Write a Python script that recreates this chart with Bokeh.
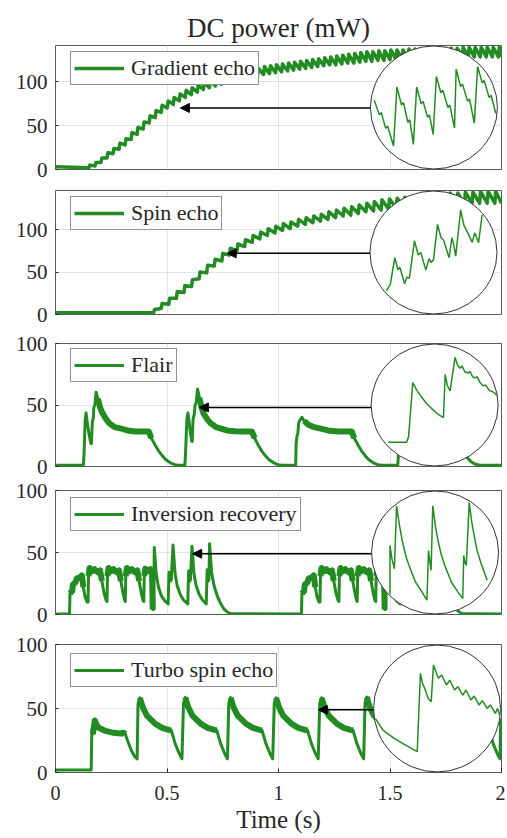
from bokeh.plotting import figure
from bokeh.layouts import column
from bokeh.models import (Range1d, FixedTicker, Legend, LegendItem, Arrow,
                          NormalHead)
from bokeh.embed import file_html
from bokeh.resources import INLINE

FONT = "Liberation Serif"
GREEN = "#228B22"
TXT = "#262626"

# ---------------- data ----------------
X_TICKS = [0, 0.5, 1, 1.5, 2]
X_LABELS = ["0", "0.5", "1", "1.5", "2"]
LABELS = ["Gradient echo", "Spin echo", "Flair", "Inversion recovery",
          "Turbo spin echo"]
Y_MAX = [141, 146, 100, 100, 100]
Y_TICKS = [0, 50, 100]

# Gradient echo: tooth start times, trough and peak of each tooth (mW)
GE_BASE = 3
GE_TOOTH_T = [0.150, 0.177, 0.204, 0.231, 0.258, 0.285, 0.312, 0.339, 0.366, 0.393,
              0.420, 0.447, 0.474, 0.501, 0.528, 0.555, 0.582, 0.609, 0.636, 0.663,
              0.690, 0.717, 0.744, 0.771, 0.798, 0.825, 0.852, 0.879, 0.906, 0.933,
              0.960, 0.987, 1.014, 1.041, 1.068, 1.095, 1.122, 1.149, 1.176, 1.203,
              1.230, 1.257, 1.284, 1.311, 1.338, 1.365, 1.392, 1.419, 1.446, 1.473,
              1.500, 1.527, 1.554, 1.581, 1.608, 1.635, 1.662, 1.689, 1.716, 1.743,
              1.770, 1.797, 1.824, 1.851, 1.878, 1.905, 1.932, 1.959, 1.986]
GE_TROUGH = [2, 4, 8, 13, 18, 23, 28, 34, 40, 46,
             53, 59, 65, 70, 74, 78, 82, 85, 88, 91,
             93, 95, 97, 99, 101, 102, 104, 105, 106, 108,
             109, 110, 111, 112, 113, 114, 115, 116, 117, 118,
             119, 119, 120, 121, 121, 122, 123, 123, 124, 124,
             125, 125, 125, 126, 126, 126, 126, 127, 127, 127,
             127, 127, 128, 128, 128, 128, 128, 128, 128]
GE_PEAK = [5, 8, 13, 19, 24, 30, 35, 42, 48, 54,
           61, 67, 73, 78, 82, 86, 90, 93, 96, 99,
           101, 103, 105, 107, 109, 111, 113, 114, 115, 117,
           118, 119, 120, 121, 122, 123, 124, 125, 126, 127,
           128, 129, 130, 131, 132, 133, 134, 134, 135, 135,
           136, 136, 136, 137, 137, 137, 137, 138, 138, 138,
           138, 138, 139, 139, 139, 139, 139, 139, 139]

# Spin echo
SE_BASE = 2
SE_TOOTH_T = [0.440, 0.474, 0.508, 0.542, 0.576, 0.610, 0.644, 0.678, 0.712, 0.746,
              0.780, 0.814, 0.848, 0.882, 0.916, 0.950, 0.984, 1.018, 1.052, 1.086,
              1.120, 1.154, 1.188, 1.222, 1.256, 1.290, 1.324, 1.358, 1.392, 1.426,
              1.460, 1.494, 1.528, 1.562, 1.596, 1.630, 1.664, 1.698, 1.732, 1.766,
              1.800, 1.834, 1.868, 1.902, 1.936, 1.970]
SE_TROUGH = [2, 7, 12, 19, 26, 33, 42, 49, 57, 63,
             70, 75, 80, 85, 89, 93, 96, 99, 101, 104,
             106, 108, 110, 112, 114, 116, 117, 119, 121, 122,
             123, 124, 125, 126, 127, 128, 128, 129, 129, 130,
             130, 130, 131, 131, 131, 131]
SE_PEAK = [6, 13, 19, 27, 34, 41, 50, 58, 65, 72,
           78, 83, 88, 93, 97, 101, 104, 107, 109, 112,
           114, 116, 118, 121, 123, 125, 127, 129, 131, 133,
           135, 136, 137, 138, 139, 140, 141, 142, 142, 143,
           143, 144, 144, 145, 145, 145]
TOOTH_RISE = 0.004

# Flair
FL_T = [0.000, 0.125, 0.128, 0.133, 0.137, 0.145, 0.158, 0.161, 0.165, 0.170,
        0.172, 0.177, 0.182, 0.190, 0.200, 0.209, 0.225, 0.239, 0.265, 0.299,
        0.330, 0.358, 0.390, 0.418, 0.430, 0.448, 0.463, 0.478, 0.495, 0.515,
        0.535, 0.552,
        0.580, 0.583, 0.589, 0.594, 0.602, 0.610, 0.613, 0.617, 0.622, 0.626,
        0.631, 0.637, 0.645, 0.655, 0.664, 0.680, 0.694, 0.720, 0.746, 0.776,
        0.806, 0.845, 0.881, 0.893, 0.910, 0.925, 0.940, 0.958, 0.978, 0.998,
        1.015,
        1.077, 1.079, 1.083, 1.087, 1.090, 1.095, 1.105, 1.115, 1.134, 1.160,
        1.194, 1.230, 1.270, 1.300, 1.328, 1.340, 1.358, 1.373, 1.388, 1.405,
        1.425, 1.445, 1.463,
        1.535, 1.538, 1.543, 1.547, 1.555, 1.568, 1.571, 1.575, 1.580, 1.582,
        1.587, 1.592, 1.600, 1.610, 1.619, 1.635, 1.649, 1.675, 1.709, 1.740,
        1.770, 1.800, 1.812, 1.830, 1.843, 1.860, 1.880, 1.903, 2.000]
FL_V = [1, 1, 10, 38, 43.6, 32, 19, 18.5, 36, 40,
        48, 50, 60.4, 55, 48, 44, 39, 35.5, 32, 30.6,
        29, 28.5, 28.5, 28.5, 23, 17, 12.5, 9, 5.5, 3,
        1.5, 1,
        1, 10, 38, 43.6, 32, 21, 20.3, 38.8, 42, 50,
        52, 63, 56, 48, 43, 38.5, 35.5, 32, 30.6, 29,
        28.7, 28.5, 28.5, 23, 17, 12.5, 9, 5.5, 3, 1.5,
        1,
        1, 18, 25, 27, 35, 37.4, 40, 37, 34, 32,
        30.6, 29, 28.5, 28.5, 28.5, 23, 17, 12.5, 9, 5.5,
        3, 1.5, 1,
        1, 10, 38, 43, 32, 19, 18.5, 36, 40, 48,
        50, 60, 55, 48, 44, 39, 35.5, 32, 30.6, 29,
        28.5, 28.5, 23, 15, 8, 4.5, 2, 1, 1]

# Inversion recovery
IR_T = [0.000, 0.063, 0.065, 0.075, 0.078, 0.090, 0.095, 0.110, 0.118, 0.125, 0.133, 0.142,
        0.146, 0.148, 0.153, 0.165, 0.175, 0.190, 0.200, 0.208, 0.218, 0.228,
        0.231, 0.233, 0.238, 0.250, 0.260, 0.275, 0.285, 0.293, 0.303, 0.311,
        0.313, 0.315, 0.320, 0.332, 0.342, 0.357, 0.367, 0.375, 0.385, 0.393,
        0.396, 0.398, 0.403, 0.415, 0.425, 0.433, 0.436, 0.440,
        0.443, 0.452, 0.462, 0.475, 0.490, 0.505,
        0.509, 0.515, 0.519, 0.527, 0.536, 0.546, 0.560, 0.575, 0.593,
        0.597, 0.602, 0.605, 0.612, 0.621, 0.631, 0.645, 0.660, 0.676,
        0.680, 0.685, 0.688, 0.691, 0.700, 0.710, 0.725, 0.740, 0.755, 0.770, 0.784,
        1.103, 1.105, 1.115, 1.118, 1.130, 1.135, 1.150, 1.158, 1.165, 1.173, 1.182,
        1.186, 1.188, 1.193, 1.205, 1.215, 1.230, 1.240, 1.248, 1.258, 1.268,
        1.271, 1.273, 1.278, 1.290, 1.300, 1.315, 1.325, 1.333, 1.343, 1.351,
        1.353, 1.355, 1.360, 1.372, 1.382, 1.397, 1.407, 1.415, 1.425, 1.433,
        1.436, 1.438, 1.443, 1.455, 1.465, 1.473, 1.476, 1.480,
        1.483, 1.492, 1.502, 1.515, 1.530, 1.545,
        1.549, 1.555, 1.559, 1.567, 1.576, 1.586, 1.600, 1.615, 1.633,
        1.637, 1.642, 1.645, 1.652, 1.661, 1.671, 1.685, 1.700, 1.716,
        1.720, 1.725, 1.728, 1.731, 1.740, 1.750, 1.765, 1.780, 1.795, 1.810, 1.824, 2.000]
IR_V = [0.5, 0.5, 17, 19, 24, 26, 29, 30, 31.5, 22, 14, 10,
        10, 31, 37.5, 35, 36.5, 34, 35.5, 27, 17, 11,
        10.5, 31, 37.5, 35, 36.5, 34, 35.5, 27, 17, 11,
        10.5, 31, 37.5, 35, 36.5, 34, 35.5, 27, 17, 11,
        10.5, 31, 37, 35, 36.5, 34, 4, 4,
        54, 32, 22, 15, 11, 8.5,
        34, 27, 28, 56, 33, 23, 16, 11.5, 8.5,
        35, 27, 28, 55, 33, 23, 16, 11.5, 8.5,
        36, 27, 28, 57, 34, 24, 15, 9, 4.5, 2, 0.8,
        0.5, 17, 19, 24, 26, 29, 30, 31.5, 22, 14, 10,
        10, 31, 37.5, 35, 36.5, 34, 35.5, 27, 17, 11,
        10.5, 31, 37.5, 35, 36.5, 34, 35.5, 27, 17, 11,
        10.5, 31, 37.5, 35, 36.5, 34, 35.5, 27, 17, 11,
        10.5, 31, 37, 35, 36.5, 34, 4, 4,
        54, 32, 22, 15, 11, 8.5,
        34, 27, 28, 56, 33, 23, 16, 11.5, 8.5,
        35, 27, 28, 55, 33, 23, 16, 11.5, 8.5,
        36, 27, 28, 57, 34, 24, 15, 9, 4.5, 2, 0.8, 0.5]

# Turbo spin echo
TSE_T = [0.000, 0.160, 0.163, 0.168, 0.176, 0.185, 0.194, 0.224, 0.260, 0.290, 0.306, 0.313, 0.325, 0.340, 0.355, 0.366,
         0.370, 0.378, 0.391, 0.410, 0.448, 0.478, 0.508, 0.519, 0.537, 0.555, 0.567,
         0.574, 0.582, 0.595, 0.614, 0.652, 0.682, 0.712, 0.723, 0.741, 0.759, 0.771,
         0.777, 0.785, 0.798, 0.817, 0.855, 0.885, 0.915, 0.926, 0.944, 0.962, 0.974,
         0.981, 0.989, 1.002, 1.021, 1.059, 1.089, 1.119, 1.130, 1.148, 1.166, 1.178,
         1.185, 1.193, 1.206, 1.225, 1.263, 1.293, 1.323, 1.334, 1.352, 1.370, 1.382,
         1.388, 1.396, 1.409, 1.428, 1.466, 1.496, 1.526, 1.537, 1.555, 1.573, 1.585,
         1.592, 1.600, 1.613, 1.632, 1.670, 1.700, 1.730, 1.741, 1.759, 1.777, 1.789,
         1.796, 1.804, 1.817, 1.836, 1.874, 1.904, 1.934, 1.945, 1.963, 1.981, 1.993,
         1.996, 2.000]
TSE_V = [2, 2, 33, 30, 40.6, 37, 34.9, 32.5, 31, 30.5, 31, 30, 24, 17.2, 12.5, 10.7,
         53.6, 58.3, 51, 44.5, 38, 34.9, 33.3, 33, 22.4, 14.6, 10.7,
         54, 58.6, 51, 44.5, 38, 34.9, 33.3, 33, 22.4, 14.6, 10.7,
         54, 58.5, 51, 44.5, 38, 34.9, 33.3, 33, 22.4, 14.6, 10.7,
         54, 58.3, 51, 44.5, 38, 34.9, 33.3, 33, 22.4, 14.6, 10.7,
         54, 58.3, 51, 44.5, 38, 34.9, 33.3, 33, 22.4, 14.6, 10.7,
         54, 58.9, 51, 44.5, 38, 34.9, 33.3, 33, 22.4, 14.6, 10.7,
         54, 58.5, 51, 44.5, 38, 34.9, 33.3, 33, 22.4, 14.6, 10.7,
         54, 58.5, 51, 44.5, 38, 34.9, 33.3, 33, 22.4, 14.6, 10.7,
         40, 42]

# Noisy (thick) stretches of each trace, in seconds
FL_NOISY = [(0.19, 0.43), (0.645, 0.893), (1.11, 1.34), (1.60, 1.812)]
IR_NOISY = [(0.065, 0.125), (0.148, 0.208), (0.233, 0.293), (0.315, 0.375),
            (0.398, 0.436), (1.105, 1.165), (1.188, 1.248), (1.273, 1.333),
            (1.355, 1.415), (1.438, 1.476)]
TSE_NOISY = [(0.168, 0.313), (0.378, 0.519), (0.582, 0.723), (0.785, 0.926),
             (0.989, 1.130), (1.193, 1.334), (1.396, 1.537), (1.600, 1.741),
             (1.804, 1.945)]

# Zoomed insets: position across / up the magnifier circle (0-100 %)
GE_IN_U = [3, 7, 8.5, 12, 13.5, 18.2, 20.8, 24.5, 26, 29.5, 31, 33.8, 36.4, 40, 41.5,
           45, 46.5, 49.4, 51.9, 55.5, 57, 61, 62.5, 66.2, 67.5, 71, 72.5, 76.5,
           78, 81.8, 84.4, 88, 89.5, 93.5, 95, 98.7]
GE_IN_W = [56, 44, 46, 33, 35, 18.7, 66.7, 52, 54, 38, 40, 20, 66.7, 53, 55,
           42, 44, 28, 75.2, 62, 64, 50, 52, 33.3, 81.3, 67, 69, 55,
           57, 37.3, 83.2, 70, 72, 58, 60, 45.3]
SE_IN_U = [13, 16, 19.5, 22, 23.5, 27.3, 29, 31, 35, 38, 40, 44, 46.5, 48, 50,
           53.2, 56, 58, 62.3, 64.5, 66, 67.5, 71.4, 74, 77, 80.5, 82.5, 84,
           85.5, 88.3]
SE_IN_W = [19, 24, 45.8, 36, 38, 24.5, 30, 29, 59.5, 48, 50, 35.7, 45, 42, 44,
           72.8, 62, 60, 45.8, 62, 56, 47, 84.7, 72, 66, 58.2, 66, 62,
           58, 80.7]
FL_IN_U = [13.6, 28, 29.5, 32.8, 36, 39.9, 43, 47.8, 52, 57, 58.3, 60, 62.2, 66.1,
           68, 70, 71.5, 74, 76.6, 78, 80, 82, 83.5, 86, 88.5, 90, 93, 95.5,
           97.6, 99]
FL_IN_W = [19.5, 19.5, 24, 68.3, 62, 56.3, 52, 47, 43, 39.7, 75, 66, 61.6, 89,
           83, 80, 82, 77, 76.3, 77.5, 73, 72.3, 73, 68, 65.6, 66.5, 62, 61,
           59.7, 57.6]
IR_IN_U = [14.5, 14.5, 16, 18, 19.7, 22, 24.4, 27, 29.5, 34.6, 39.7, 43.6,
           44.9, 46, 46.9, 48.2, 50.5, 52.6, 55, 57.7, 62.8, 67.9, 71.8,
           72.6, 73.6, 74.6, 76.9, 79, 80.8, 83, 85.9, 91]
IR_IN_W = [16, 55.6, 45, 36.8, 87.9, 72, 58.3, 47, 39.5, 26, 18, 11.3,
           51.6, 42, 35.5, 87.9, 70, 58.3, 48, 39.5, 26, 18, 12.6,
           47.6, 42, 39.5, 90.6, 74, 63.7, 52, 42.2, 27.4]
TSE_IN_U = [1.5, 7.4, 15.1, 22.8, 34.4, 36.9, 38.5, 40.8, 43, 45.4, 47.2, 51,
            53.6, 57.4, 60, 63.8, 66.4, 70.3, 72.8, 76.7, 79.2, 83.1, 85.6,
            89.5, 92, 95.9, 97.7, 99.2]
TSE_IN_W = [42, 33, 27.3, 22.6, 16, 77.7, 70, 64.6, 58, 55.4, 84.3, 73.8,
            76.4, 68.5, 72.4, 64.6, 67.2, 60.6, 64.6, 56.7, 59.8, 52.8, 56.2,
            50.1, 52.8, 46.2, 50.1, 44.9]

# Arrow tips (time s, power mW) and magnifier centres (time s, power mW)
ARROW_TIP = [(0.56, 70), (0.77, 72), (0.645, 48), (0.615, 49), (1.178, 49)]
LENS_CENTER = [(1.697, 70.5), (1.695, 73), (1.70, 50), (1.702, 50), (1.711, 50)]


def teeth(ts, lo, hi, base):
    xs, ys = [0.0], [base]
    for t, a, b in zip(ts, lo, hi):
        xs += [t, t + TOOTH_RISE]
        ys += [a, b]
    xs.append(2.0)
    ys.append(lo[-1])
    return xs, ys


GE_X, GE_Y = teeth(GE_TOOTH_T, GE_TROUGH, GE_PEAK, GE_BASE)
SE_X, SE_Y = teeth(SE_TOOTH_T, SE_TROUGH, SE_PEAK, SE_BASE)

SERIES = [(GE_X, GE_Y), (SE_X, SE_Y), (FL_T, FL_V), (IR_T, IR_V), (TSE_T, TSE_V)]
NOISY = [[], [], FL_NOISY, IR_NOISY, TSE_NOISY]
NOISY_W = [0, 0, 6, 6, 6]
INSETS = [(GE_IN_U, GE_IN_W), (SE_IN_U, SE_IN_W), (FL_IN_U, FL_IN_W),
          (IR_IN_U, IR_IN_W), (TSE_IN_U, TSE_IN_W)]

for a, b in SERIES + INSETS:
    assert len(a) == len(b), (len(a), len(b))

# ---------------- layout ----------------
FIG_W = 505
B_LEFT, B_RIGHT = 55, 4
FRAME_W = FIG_W - B_LEFT - B_RIGHT
FRAME_H = [124, 124, 123, 124, 128]
B_TOP = [45, 9, 15, 12, 16]
B_BOT = [12, 14, 12, 14, 66]
LEG_TOP = [8, 8, 7, 9, 11]
LEG_FS = 22
LEG_PAD = 3
LEG_H = 32
LENS_RX_PX = 63.5

figs = []
for i in range(5):
    fh = FRAME_H[i]
    ymax = Y_MAX[i]
    p = figure(width=FIG_W, height=B_TOP[i] + fh + B_BOT[i],
               x_range=Range1d(0, 2), y_range=Range1d(0, ymax),
               output_backend="svg", toolbar_location=None,
               min_border_left=B_LEFT, min_border_right=B_RIGHT,
               min_border_top=B_TOP[i], min_border_bottom=B_BOT[i],
               title=("DC power (mW)" if i == 0 else None))
    p.background_fill_color = "white"
    p.border_fill_color = "white"
    p.outline_line_color = "#5a5a5a"
    p.outline_line_width = 1

    if i == 0:
        p.title.align = "center"
        p.title.text_font = FONT
        p.title.text_font_size = "27px"
        p.title.text_font_style = "normal"
        p.title.text_color = TXT
        p.title.standoff = 6

    # axes
    p.yaxis.ticker = FixedTicker(ticks=Y_TICKS)
    p.yaxis.major_label_text_font = FONT
    p.yaxis.major_label_text_font_size = "21px"
    p.yaxis.major_label_text_color = TXT
    p.yaxis.major_label_standoff = 8
    p.yaxis.major_tick_in = 3
    p.yaxis.major_tick_out = 0
    p.yaxis.major_tick_line_color = TXT
    p.yaxis.minor_tick_line_color = None
    p.yaxis.axis_line_color = None

    p.xaxis.ticker = FixedTicker(ticks=X_TICKS)
    p.xgrid.ticker = FixedTicker(ticks=X_TICKS)
    p.ygrid.ticker = FixedTicker(ticks=Y_TICKS)
    p.xgrid.grid_line_color = "#e3e3e3"
    p.ygrid.grid_line_color = "#e3e3e3"
    if i < 4:
        p.xaxis.visible = False
    else:
        p.xaxis.major_label_overrides = {t: s for t, s in zip(X_TICKS, X_LABELS)}
        p.xaxis.major_label_text_font = FONT
        p.xaxis.major_label_text_font_size = "20px"
        p.xaxis.major_label_text_color = TXT
        p.xaxis.major_label_standoff = 13
        p.xaxis.major_tick_in = 4
        p.xaxis.major_tick_out = 0
        p.xaxis.major_tick_line_color = TXT
        p.xaxis.minor_tick_line_color = None
        p.xaxis.axis_line_color = None
        p.xaxis.axis_label = "Time (s)"
        p.xaxis.axis_label_text_font = FONT
        p.xaxis.axis_label_text_font_size = "25px"
        p.xaxis.axis_label_text_font_style = "normal"
        p.xaxis.axis_label_text_color = TXT
        p.xaxis.axis_label_standoff = 3

    # main trace
    xs, ys = SERIES[i]
    main_w = 3.5 if i < 2 else 3
    r = p.line(xs, ys, line_color=GREEN, line_width=main_w, line_join="round")
    segs_x, segs_y = [], []
    for a, b in NOISY[i]:
        sx = [t for t in xs if a <= t <= b]
        sy = [v for t, v in zip(xs, ys) if a <= t <= b]
        segs_x.append(sx)
        segs_y.append(sy)
    if segs_x:
        p.multi_line(segs_x, segs_y, line_color=GREEN, line_width=NOISY_W[i],
                     line_join="round")

    # magnifier
    cx, cy = LENS_CENTER[i]
    rx = LENS_RX_PX / (FRAME_W / 2.0)
    ry = (fh / 2.0 - 0.5) / (fh / ymax)
    p.ellipse(x=[cx], y=[cy], width=2 * rx, height=2 * ry,
              fill_color="white", line_color="#333333", line_width=1)
    u0 = (0 - (cx - rx)) / (2 * rx) * 100
    u1 = (2 - (cx - rx)) / (2 * rx) * 100
    w0 = (0 - (cy - ry)) / (2 * ry) * 100
    w1 = (ymax - (cy - ry)) / (2 * ry) * 100
    p.extra_x_ranges = {"lens_x": Range1d(u0, u1)}
    p.extra_y_ranges = {"lens_y": Range1d(w0, w1)}
    iu, iw = INSETS[i]
    p.line(iu, iw, x_range_name="lens_x", y_range_name="lens_y",
           line_color=GREEN, line_width=1.5)

    # arrow
    ax, ay = ARROW_TIP[i]
    p.add_layout(Arrow(end=NormalHead(size=9, fill_color="black",
                                      line_color="black", line_width=1),
                       x_start=cx - rx, y_start=ay, x_end=ax, y_end=ay,
                       line_color="black", line_width=1.5))

    # legend
    leg = Legend(items=[LegendItem(label=LABELS[i], renderers=[r])],
                 location=(15, fh - LEG_TOP[i] - LEG_H),
                 label_text_font=FONT, label_text_font_size=f"{LEG_FS}px",
                 label_text_color=TXT, glyph_width=50, glyph_height=20,
                 label_height=20, label_standoff=7, padding=LEG_PAD, spacing=0,
                 margin=0, border_line_color=TXT, border_line_width=1,
                 background_fill_color="white", background_fill_alpha=1.0)
    p.add_layout(leg)
    figs.append(p)

layout = column(*figs)
open("out.html", "w").write(file_html(layout, INLINE))
